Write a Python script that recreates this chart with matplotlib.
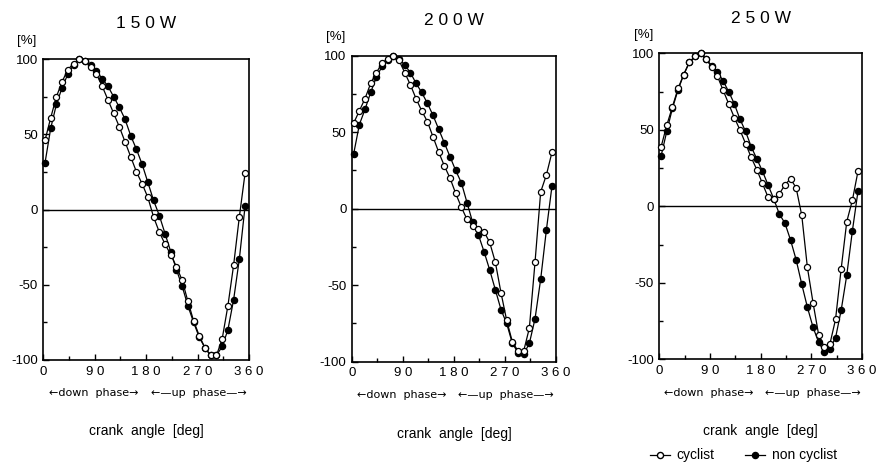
import matplotlib
matplotlib.use("Agg")
import matplotlib.pyplot as plt
from matplotlib.lines import Line2D
from matplotlib.ticker import MultipleLocator

plt.rcParams['font.family'] = ['Liberation Sans', 'DejaVu Sans']
plt.rcParams['axes.unicode_minus'] = False

# crank angle of each sample [deg]
angle = [3, 13, 23, 33, 43, 53, 63, 73, 83, 93, 103, 113, 123, 133, 143, 153, 163, 173,
         183, 193, 203, 213, 223, 233, 243, 253, 263, 273, 283, 293, 303, 313, 323, 333, 343, 353]

titles = ["1 5 0 W", "2 0 0 W", "2 5 0 W"]

# 150W
cyc_150 = [46, 61, 75, 85, 93, 97, 100, 99, 95, 90, 82, 73, 64, 55, 45, 35, 25, 17,
           8, -5, -15, -23, -30, -38, -47, -61, -74, -84, -92, -97, -97, -86, -64, -37, -5, 24]
non_150 = [31, 54, 70, 81, 90, 96, 100, 99, 96, 92, 87, 82, 75, 68, 60, 49, 40, 30,
           18, 6, -4, -16, -28, -40, -51, -64, -75, -85, -92, -97, -97, -91, -80, -60, -33, 2]

# 200W
cyc_200 = [56, 64, 72, 82, 89, 95, 98, 100, 97, 89, 81, 72, 64, 57, 47, 37, 28, 20,
           10, 1, -7, -11, -13, -15, -22, -35, -55, -73, -87, -93, -93, -78, -35, 11, 22, 37]
non_200 = [36, 55, 65, 76, 86, 93, 97, 100, 98, 94, 89, 82, 76, 69, 61, 52, 43, 34,
           25, 17, 4, -9, -17, -28, -40, -53, -66, -75, -88, -94, -95, -88, -72, -46, -14, 15]

# 250W
cyc_250 = [39, 53, 65, 77, 86, 94, 98, 100, 96, 91, 85, 76, 67, 58, 50, 41, 32, 24,
           15, 6, 5, 8, 14, 18, 12, -6, -40, -63, -84, -92, -90, -74, -41, -10, 4, 23]
non_250 = [33, 49, 64, 76, 86, 94, 98, 100, 96, 92, 88, 82, 75, 67, 57, 49, 39, 31,
           23, 14, 5, -5, -11, -22, -35, -51, -66, -79, -89, -95, -93, -86, -68, -45, -16, 10]

cyclist = [cyc_150, cyc_200, cyc_250]
non_cyclist = [non_150, non_200, non_250]

xticks = [0, 90, 180, 270, 360]
xticklabels = ["0", "9 0", "1 8 0", "2 7 0", "3 6 0"]
yticks = [-100, -50, 0, 50, 100]

# axes boxes in figure fraction
boxes = [[0.0492, 0.2357, 0.2338, 0.639],
         [0.400, 0.232, 0.2318, 0.6497],
         [0.7494, 0.2372, 0.2301, 0.6497]]

fig = plt.figure(figsize=(8.8, 4.71), dpi=100)

for k in range(3):
    ax = fig.add_axes(boxes[k])
    ax.axhline(0, color="black", lw=1.0, zorder=1)
    ax.plot(angle, non_cyclist[k], color="black", lw=0.9, marker="o", ms=4.4,
            mfc="black", mec="black", clip_on=False, zorder=3)
    ax.plot(angle, cyclist[k], color="black", lw=0.9, marker="o", ms=4.4,
            mfc="white", mec="black", mew=0.9, clip_on=False, zorder=4)

    ax.set_xlim(0, 360)
    ax.set_ylim(-100, 100)
    ax.set_xticks(xticks)
    ax.set_xticklabels(xticklabels)
    ax.set_yticks(yticks)
    ax.xaxis.set_minor_locator(MultipleLocator(45))
    ax.yaxis.set_minor_locator(MultipleLocator(25))
    ax.tick_params(which="both", direction="in", labelsize=9.5, width=1)
    ax.tick_params(which="major", length=4, pad=4)
    ax.tick_params(which="minor", length=3)
    for s in ax.spines.values():
        s.set_linewidth(1.2)

    ax.set_title(titles[k], fontsize=12.5, pad=22)
    ax.text(-0.08, 1.06, "[%]", transform=ax.transAxes, fontsize=9.5,
            ha="center", va="center")

    tr = ax.get_xaxis_transform()
    ax.text(88, -0.11, "\u2190down  phase\u2192", transform=tr, fontsize=8,
            ha="center", va="center", family=["DejaVu Sans"])
    ax.text(272, -0.11, "\u2190\u2014up  phase\u2014\u2192", transform=tr, fontsize=8,
            ha="center", va="center", family=["DejaVu Sans"])
    ax.text(180, -0.235, "crank  angle  [deg]", transform=tr, fontsize=10,
            ha="center", va="center")

handles = [Line2D([], [], color="black", lw=0.9, marker="o", ms=4.4, mfc="white", mec="black"),
           Line2D([], [], color="black", lw=0.9, marker="o", ms=4.4, mfc="black", mec="black")]
fig.legend(handles, ["cyclist", "non cyclist"], loc="center", bbox_to_anchor=(0.845, 0.033),
           ncol=2, frameon=False, fontsize=10, handlelength=1.4, columnspacing=2.2,
           handletextpad=0.5)

fig.savefig("out.png", dpi=100)
